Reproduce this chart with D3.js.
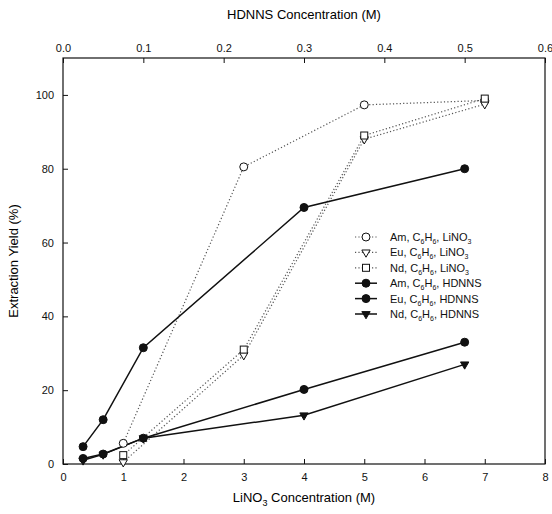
<!DOCTYPE html>
<html lang="en">
<meta charset="utf-8">
<style type="text/css">
  body { margin: 0; background: #fff; }
  svg { font-family: "Liberation Sans", Arial, sans-serif; }
  .axis path, .axis line { stroke: #111; }
  .axis text { font-size: 11px; fill: #111; }
  .solid { fill: none; stroke: #111; stroke-width: 1.5px; }
  .dotted { fill: none; stroke: #555; stroke-width: 1.2px; stroke-dasharray: 1.2,2.2; }
</style>
<body>
<script src="https://d3js.org/d3.v7.min.js"></script>
<script>
// LiNO3 series (bottom axis)
var lino3 = [1, 3, 5, 7];
var amLi = [5.6, 80.5, 97.3, 98.5];
var euLi = [0.5, 29.5, 88, 97.5];
var ndLi = [2.4, 31, 89, 99];

// HDNNS series (top axis)
var hdnns = [0.025, 0.05, 0.1, 0.3, 0.5];
var amHd = [4.7, 12, 31.5, 69.5, 80];
var euHd = [1.5, 2.7, 7, 20.2, 33];
var ndHd = [1, 2.6, 7, 13.2, 27];

var bottomTicks = [0, 1, 2, 3, 4, 5, 6, 7, 8];
var topTicks = [0, 0.1, 0.2, 0.3, 0.4, 0.5, 0.6];
var yTicks = [0, 20, 40, 60, 80, 100];

var width = 552, height = 514;
var m = {left: 63, right: 545, top: 58, bottom: 464};

var svg = d3.select("body").append("svg")
    .attr("width", width)
    .attr("height", height);

var xLi = d3.scaleLinear().domain([0, 8]).range([m.left, m.right]);
var xHd = d3.scaleLinear().domain([0, 0.6]).range([m.left, m.right]);
var y = d3.scaleLinear().domain([0, 110]).range([m.bottom, m.top]);

// frame
svg.append("rect")
    .attr("x", m.left).attr("y", m.top)
    .attr("width", m.right - m.left).attr("height", m.bottom - m.top)
    .attr("fill", "none").attr("stroke", "#111").attr("stroke-width", 1.2);

svg.append("g").attr("class", "axis")
    .attr("transform", "translate(0," + m.bottom + ")")
    .call(d3.axisBottom(xLi).tickValues(bottomTicks).tickSize(-5).tickPadding(9).tickFormat(d3.format("d")));

svg.append("g").attr("class", "axis")
    .attr("transform", "translate(0," + m.top + ")")
    .call(d3.axisTop(xHd).tickValues(topTicks).tickSize(-5).tickPadding(6).tickFormat(d3.format(".1f")));

svg.append("g").attr("class", "axis")
    .attr("transform", "translate(" + m.left + ",0)")
    .call(d3.axisLeft(y).tickValues(yTicks).tickSize(-5).tickPadding(9));

svg.selectAll(".axis .domain").remove();

// axis titles
svg.append("text")
    .attr("x", (m.left + m.right) / 2).attr("y", 19)
    .attr("text-anchor", "middle").attr("font-size", 13)
    .text("HDNNS Concentration (M)");

var bt = svg.append("text")
    .attr("x", (m.left + m.right) / 2).attr("y", 502)
    .attr("text-anchor", "middle").attr("font-size", 13);
bt.append("tspan").text("LiNO");
bt.append("tspan").attr("dy", 4).attr("font-size", 9).text("3");
bt.append("tspan").attr("dy", -4).text(" Concentration (M)");

svg.append("text")
    .attr("transform", "translate(18," + (m.top + m.bottom) / 2 + ") rotate(-90)")
    .attr("text-anchor", "middle").attr("font-size", 13)
    .text("Extraction Yield (%)");

// symbols
var tri = d3.symbol().type(d3.symbolTriangle).size(30);
function marker(g, kind, filled) {
  var fill = filled ? "#111" : "#fff";
  if (kind === "circle") {
    g.append("circle").attr("r", 4).attr("fill", fill).attr("stroke", "#111").attr("stroke-width", 1);
  } else if (kind === "square") {
    g.append("rect").attr("x", -3.5).attr("y", -3.5).attr("width", 7).attr("height", 7)
        .attr("fill", fill).attr("stroke", "#111").attr("stroke-width", 1);
  } else {
    g.append("path").attr("d", tri).attr("transform", "rotate(180)")
        .attr("fill", fill).attr("stroke", "#111").attr("stroke-width", 1);
  }
}

var series = [
  {name: "Am", xs: lino3, ys: amLi, scale: xLi, cls: "dotted", kind: "circle", filled: false, solv: "LiNO", sub: "3"},
  {name: "Eu", xs: lino3, ys: euLi, scale: xLi, cls: "dotted", kind: "tri", filled: false, solv: "LiNO", sub: "3"},
  {name: "Nd", xs: lino3, ys: ndLi, scale: xLi, cls: "dotted", kind: "square", filled: false, solv: "LiNO", sub: "3"},
  {name: "Am", xs: hdnns, ys: amHd, scale: xHd, cls: "solid", kind: "circle", filled: true, solv: "HDNNS", sub: ""},
  {name: "Eu", xs: hdnns, ys: euHd, scale: xHd, cls: "solid", kind: "circle", filled: true, solv: "HDNNS", sub: ""},
  {name: "Nd", xs: hdnns, ys: ndHd, scale: xHd, cls: "solid", kind: "tri", filled: true, solv: "HDNNS", sub: ""}
];

series.forEach(function (s) {
  var pts = s.xs.map(function (x, i) { return [x, s.ys[i]]; });
  var line = d3.line().x(function (d) { return s.scale(d[0]); }).y(function (d) { return y(d[1]); });
  svg.append("path").attr("class", s.cls).attr("d", line(pts));
});
series.forEach(function (s) {
  s.xs.forEach(function (x, i) {
    var g = svg.append("g").attr("transform", "translate(" + s.scale(x) + "," + y(s.ys[i]) + ")");
    marker(g, s.kind, s.filled);
  });
});

// legend
var lg = svg.append("g").attr("transform", "translate(355,237)");
series.forEach(function (s, i) {
  var row = lg.append("g").attr("transform", "translate(0," + i * 15.4 + ")");
  row.append("line").attr("class", s.cls).attr("x1", 0).attr("x2", 22).attr("y1", 0).attr("y2", 0);
  var mg = row.append("g").attr("transform", "translate(11,0)");
  marker(mg, s.kind, s.filled);
  var t = row.append("text").attr("x", 35).attr("y", 4).attr("font-size", 11).attr("fill", "#111");
  t.append("tspan").text(s.name + ", C");
  t.append("tspan").attr("dy", 3).attr("font-size", 7).text("6");
  t.append("tspan").attr("dy", -3).text("H");
  t.append("tspan").attr("dy", 3).attr("font-size", 7).text("6");
  t.append("tspan").attr("dy", -3).text(", " + s.solv);
  if (s.sub) t.append("tspan").attr("dy", 3).attr("font-size", 7).text(s.sub);
});
</script>
</body>
</html>
